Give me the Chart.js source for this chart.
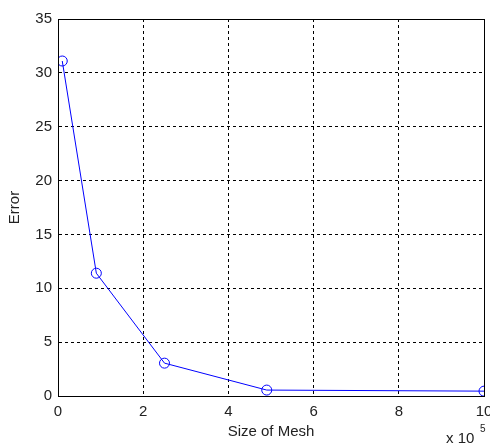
<!DOCTYPE html>
<html>
<head>
<meta charset="utf-8">
<script src="https://cdn.jsdelivr.net/npm/chart.js@4.4.0/dist/chart.umd.min.js"></script>
<style>
  html, body { margin: 0; padding: 0; background: #fff; }
  #wrap { width: 490px; height: 446px; }
</style>
</head>
<body>
<div id="wrap"><canvas id="grafico"></canvas></div>
<script>
// datos (x en unidades de 10^5)
let tamMalla=[0.1, 0.9, 2.5, 4.9, 10]
let errores=[31.1, 11.4, 3.05, 0.55, 0.45]
let ticksX=[0, 2, 4, 6, 8, 10]
let ticksY=[0, 5, 10, 15, 20, 25, 30, 35]

const fuente="'Liberation Sans', Arial, sans-serif"

// caja completa alrededor del area + texto del exponente
const cajaPlugin={
  id:'caja',
  afterDraw(chart){
    let ctx=chart.ctx, a=chart.chartArea
    ctx.save()
    ctx.strokeStyle='#000'
    ctx.lineWidth=1
    ctx.strokeRect(Math.round(a.left)+0.5, Math.round(a.top)+0.5, Math.round(a.right-a.left), Math.round(a.bottom-a.top))
    ctx.fillStyle='#222'
    ctx.font='15px '+fuente
    ctx.textBaseline='alphabetic'
    ctx.fillText('x 10', 446, 443)
    ctx.font='10px '+fuente
    ctx.fillText('5', 480, 432)
    ctx.restore()
  }
}

const datos={
  datasets:[{
    label:'Error',
    data:tamMalla.map((x,j)=>({x:x, y:errores[j]})),
    borderColor:'#0000ff',
    backgroundColor:'rgba(0,0,0,0)',
    borderWidth:1,
    pointRadius:5,
    pointBorderWidth:1,
    pointStyle:'circle',
    tension:0
  }]
}

const config={
  type:'scatter',
  data:datos,
  options:{
    responsive:true,
    maintainAspectRatio:false,
    animation:false,
    showLine:true,
    layout:{ padding:{ top:19, right:6, left:0, bottom:0 } },
    plugins:{ legend:{ display:false }, tooltip:{ enabled:false } },
    scales:{
      x:{
        type:'linear',
        min:0, max:10,
        afterBuildTicks(s){ s.ticks=ticksX.map(v=>({value:v})) },
        afterFit(s){ s.height=50; s.paddingLeft=0; s.paddingRight=0 },
        grid:{ color:'#000', drawTicks:false, lineWidth:1 },
        border:{ display:true, color:'#000', dash:[3,3] },
        ticks:{ padding:7, color:'#222', font:{ family:fuente, size:15 }, maxRotation:0 },
        title:{ display:true, text:'Size of Mesh', color:'#222', font:{ family:fuente, size:15 }, padding:{ top:0, bottom:5 } }
      },
      y:{
        type:'linear',
        min:0, max:35,
        afterBuildTicks(s){ s.ticks=ticksY.map(v=>({value:v})) },
        afterFit(s){ s.width=58; s.paddingTop=0; s.paddingBottom=0 },
        grid:{ color:'#000', drawTicks:false, lineWidth:1 },
        border:{ display:true, color:'#000', dash:[3,3] },
        ticks:{ padding:6, color:'#222', font:{ family:fuente, size:15 } },
        title:{ display:true, text:'Error', color:'#222', font:{ family:fuente, size:15 }, padding:{ top:6, bottom:0 } }
      }
    }
  },
  plugins:[cajaPlugin]
}

const miGrafico=new Chart(document.getElementById('grafico'), config)
</script>
</body>
</html>
